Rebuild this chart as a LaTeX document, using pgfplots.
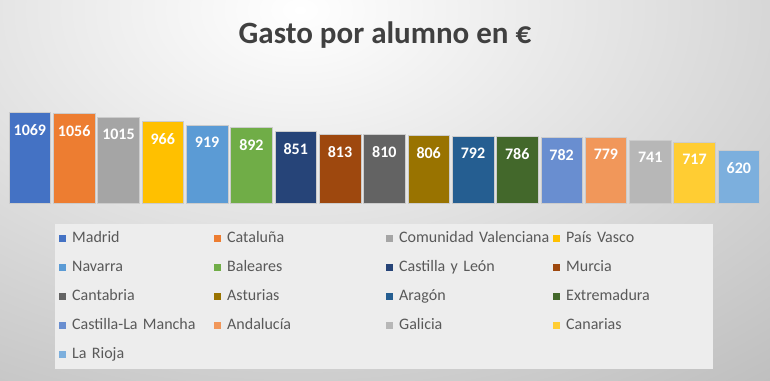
\documentclass[border=0pt]{standalone}
\usepackage{fontspec}
\setmainfont{Carlito}
\usepackage{pgfplots}
\pgfplotsset{compat=1.18}
\definecolor{cA}{RGB}{68,114,196}
\definecolor{cB}{RGB}{237,125,49}
\definecolor{cC}{RGB}{165,165,165}
\definecolor{cD}{RGB}{255,192,0}
\definecolor{cE}{RGB}{91,155,213}
\definecolor{cF}{RGB}{112,173,71}
\definecolor{cG}{RGB}{38,68,120}
\definecolor{cH}{RGB}{158,72,14}
\definecolor{cI}{RGB}{99,99,99}
\definecolor{cJ}{RGB}{153,115,0}
\definecolor{cK}{RGB}{37,94,145}
\definecolor{cL}{RGB}{67,104,43}
\definecolor{cM}{RGB}{105,142,208}
\definecolor{cN}{RGB}{241,151,90}
\definecolor{cO}{RGB}{183,183,183}
\definecolor{cP}{RGB}{255,205,51}
\definecolor{cQ}{RGB}{124,175,221}
\begin{document}
\begin{tikzpicture}[x=1pt,y=1pt]
\useasboundingbox (0,0) rectangle (770,380);
\begin{scope}
\clip (0,0) rectangle (770,380);
\shade[inner color=white, outer color=black!42] (-950,-430) rectangle (1550,1170);
\end{scope}
\node[font=\bfseries\fontsize{31}{36}\selectfont, text=black!75] at (385,345) {Gasto por alumno en €};
\begin{axis}[
  at={(7.7pt,176.7pt)}, anchor=south west,
  scale only axis, width=753.3pt, height=93.5pt,
  xmin=-0.5, xmax=16.5, ymin=0, ymax=1100,
  axis lines=none, xtick=\empty, ytick=\empty,
  ybar, bar shift=0pt, bar width=0.94,
  clip=false,
  /pgf/number format/.cd, 1000 sep={}, assume math mode=true, /pgfplots/.cd,
  every axis plot/.append style={draw=white!80!black, line width=0.5pt},
  nodes near coords,
  every node near coord/.append style={font=\bfseries\fontsize{16}{16}\selectfont, text=white, anchor=north, inner sep=0pt, yshift=-12pt},
  legend columns=4,
  legend cell align=left,
  legend image code/.code={\path[#1, draw=none] (0pt,-3.5pt) rectangle (7pt,3.5pt);},
  legend style={
    at={(axis description cs:0,0)}, anchor=north west, xshift=47.3pt, yshift=-20.7pt,
    draw=none, fill=black!7, inner xsep=3.5pt, inner ysep=7pt,
    font=\fontsize{16}{16}\selectfont, text=black!65,
    column sep=0pt, row sep=14pt,
    nodes={inner sep=0pt, text height=11pt, text depth=4pt, align=left},
    /tikz/every odd column/.append style={column sep=6.5pt},
    /tikz/column 2/.style={nodes={text width=141.5pt}},
    /tikz/column 4/.style={nodes={text width=158.5pt}},
    /tikz/column 6/.style={nodes={text width=153.5pt}},
    /tikz/column 8/.style={nodes={text width=143.5pt}},
  },
]
\addplot[fill=cA] coordinates {(0,1069)}; \addlegendentry{Madrid}
\addplot[fill=cB] coordinates {(1,1056)}; \addlegendentry{Cataluña}
\addplot[fill=cC] coordinates {(2,1015)}; \addlegendentry{Comunidad Valenciana}
\addplot[fill=cD] coordinates {(3,966)}; \addlegendentry{País Vasco}
\addplot[fill=cE] coordinates {(4,919)}; \addlegendentry{Navarra}
\addplot[fill=cF] coordinates {(5,892)}; \addlegendentry{Baleares}
\addplot[fill=cG] coordinates {(6,851)}; \addlegendentry{Castilla y León}
\addplot[fill=cH] coordinates {(7,813)}; \addlegendentry{Murcia}
\addplot[fill=cI] coordinates {(8,810)}; \addlegendentry{Cantabria}
\addplot[fill=cJ] coordinates {(9,806)}; \addlegendentry{Asturias}
\addplot[fill=cK] coordinates {(10,792)}; \addlegendentry{Aragón}
\addplot[fill=cL] coordinates {(11,786)}; \addlegendentry{Extremadura}
\addplot[fill=cM] coordinates {(12,782)}; \addlegendentry{Castilla-La Mancha}
\addplot[fill=cN] coordinates {(13,779)}; \addlegendentry{Andalucía}
\addplot[fill=cO] coordinates {(14,741)}; \addlegendentry{Galicia}
\addplot[fill=cP] coordinates {(15,717)}; \addlegendentry{Canarias}
\addplot[fill=cQ] coordinates {(16,620)}; \addlegendentry{La Rioja}
\end{axis}
\end{tikzpicture}
\end{document}
